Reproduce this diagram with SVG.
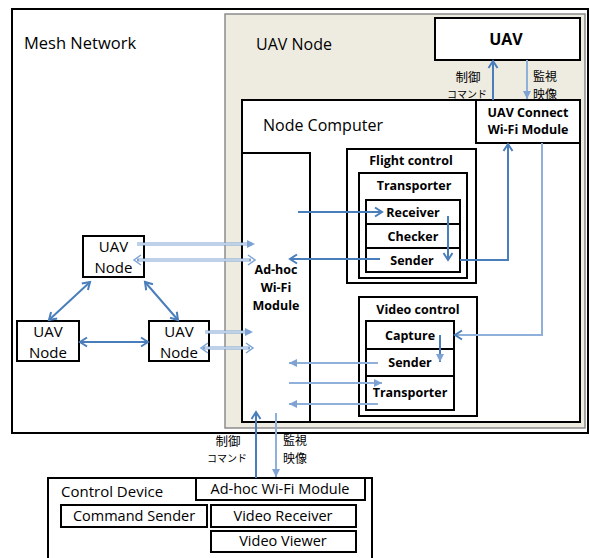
<svg xmlns="http://www.w3.org/2000/svg" width="590" height="558" viewBox="0 0 590 558">
<style>
.bx{fill:#fff;stroke:#000;stroke-width:2}
.t{font-family:"Open Sans","Liberation Sans",sans-serif;fill:#000}
.b{font-weight:bold;text-anchor:middle;font-size:12.5px}
.m{text-anchor:middle}
.jp{font-family:"Noto Sans CJK JP",sans-serif;fill:#000;text-anchor:middle}
.dk{fill:none;stroke:#4A7EBB;stroke-width:2}
.lt{fill:none;stroke:#8EB0DA;stroke-width:2}
.dbl{fill:none;stroke:#7EA3D2;stroke-width:3}
.dblc{fill:none;stroke:#fff;stroke-width:1}
.hd{fill:none;stroke:#7EA3D2;stroke-width:1.5}
</style>
<defs>
<marker id="ad" markerUnits="userSpaceOnUse" markerWidth="12" markerHeight="12" refX="9" refY="5" orient="auto-start-reverse" viewBox="0 0 12 10">
<path d="M2,0.5 L9,5 L2,9.5" fill="none" stroke="#4A7EBB" stroke-width="2"/>
</marker>
<marker id="al" markerUnits="userSpaceOnUse" markerWidth="9" markerHeight="9" refX="8" refY="4" orient="auto-start-reverse" viewBox="0 0 9 8">
<path d="M0,0 L8,4 L0,8 Z" fill="#7EA3D2"/>
</marker>
</defs>
<rect width="590" height="558" fill="#fff"/>

<g id="mesh-network">
<rect x="12" y="9" width="576" height="424" fill="#fff" stroke="#000" stroke-width="2"/>
<text class="t" x="24" y="49" font-size="16.5">Mesh Network</text>
</g>

<g id="uav-node-area">
<rect x="225" y="14" width="360" height="414" fill="#EEECE1" stroke="#8C8C8C" stroke-width="1.5"/>
<text class="t" x="256" y="50" font-size="16">UAV Node</text>
</g>

<g id="uav">
<rect class="bx" x="435" y="18" width="145" height="42"/>
<text class="t b" x="506" y="45" style="font-size:16px">UAV</text>
</g>

<g id="node-computer">
<rect class="bx" x="242" y="100" width="338" height="322"/>
<text class="t" x="263" y="131" font-size="16">Node Computer</text>
</g>

<g id="uav-connect">
<rect class="bx" x="476" y="100" width="104" height="43"/>
<text class="t b" x="528" y="117">UAV Connect</text>
<text class="t b" x="528" y="134">Wi-Fi Module</text>
</g>

<g id="adhoc-module">
<rect class="bx" x="242" y="153" width="68" height="269"/>
<text class="t b" x="276" y="274">Ad-hoc</text>
<text class="t b" x="276" y="292">Wi-Fi</text>
<text class="t b" x="276" y="310">Module</text>
</g>

<g id="flight-control">
<rect class="bx" x="347" y="149" width="129" height="134"/>
<text class="t b" x="411" y="165">Flight control</text>
<rect class="bx" x="359" y="173" width="108" height="105"/>
<text class="t b" x="414" y="190">Transporter</text>
<rect class="bx" x="366" y="200" width="94" height="24"/>
<text class="t b" x="413" y="217">Receiver</text>
<rect class="bx" x="366" y="224" width="94" height="24"/>
<text class="t b" x="413" y="241">Checker</text>
<rect class="bx" x="366" y="248" width="94" height="24"/>
<text class="t b" x="412" y="265">Sender</text>
</g>

<g id="video-control">
<rect class="bx" x="359" y="297" width="118" height="119"/>
<text class="t b" x="418" y="314">Video control</text>
<rect class="bx" x="366" y="321" width="88" height="28"/>
<text class="t b" x="410" y="340">Capture</text>
<rect class="bx" x="366" y="349" width="88" height="27"/>
<text class="t b" x="410" y="367">Sender</text>
<rect class="bx" x="366" y="376" width="88" height="34"/>
<text class="t b" x="410" y="397">Transporter</text>
</g>

<g id="node-top">
<rect class="bx" x="83" y="236" width="61" height="41"/>
<text class="t m" x="113.5" y="252" font-size="15">UAV</text>
<text class="t m" x="113.5" y="273" font-size="15">Node</text>
</g>
<g id="node-left">
<rect class="bx" x="17" y="321" width="62" height="40"/>
<text class="t m" x="48" y="337" font-size="15">UAV</text>
<text class="t m" x="48" y="358" font-size="15">Node</text>
</g>
<g id="node-right">
<rect class="bx" x="149" y="321" width="60" height="40"/>
<text class="t m" x="179" y="337" font-size="15">UAV</text>
<text class="t m" x="179" y="358" font-size="15">Node</text>
</g>

<g id="control-device">
<rect class="bx" x="48" y="478" width="324" height="84"/>
<text class="t" x="61" y="497" font-size="15">Control Device</text>
<rect class="bx" x="196" y="478" width="169" height="22"/>
<text class="t m" x="280" y="494" font-size="14.5">Ad-hoc Wi-Fi Module</text>
<rect class="bx" x="61" y="505" width="146" height="22"/>
<text class="t m" x="134" y="521" font-size="14.5">Command Sender</text>
<rect class="bx" x="211" y="505" width="145" height="22"/>
<text class="t m" x="283" y="521" font-size="14.5">Video Receiver</text>
<rect class="bx" x="211" y="531" width="145" height="21"/>
<text class="t m" x="283" y="546" font-size="14.5">Video Viewer</text>
</g>

<g id="labels">
<text class="jp" x="468" y="82" font-size="12.5">制御</text>
<text class="jp" x="467" y="97.5" font-size="10">コマンド</text>
<text class="jp" x="545" y="81" font-size="12">監視</text>
<text class="jp" x="545" y="99" font-size="12">映像</text>
<text class="jp" x="228" y="446" font-size="12.5">制御</text>
<text class="jp" x="227" y="462" font-size="10">コマンド</text>
<text class="jp" x="295" y="445" font-size="12">監視</text>
<text class="jp" x="295" y="463" font-size="12">映像</text>
</g>

<g id="connectors">
<line class="dk" x1="493" y1="100" x2="493" y2="61" marker-end="url(#ad)"/>
<line class="lt" x1="527" y1="60" x2="527" y2="99" marker-end="url(#al)"/>
<line class="dk" x1="298" y1="212" x2="382" y2="212" marker-end="url(#ad)"/>
<line class="dk" x1="448" y1="216" x2="448" y2="260" marker-end="url(#ad)"/>
<line class="dk" x1="380" y1="259" x2="290" y2="259" marker-end="url(#ad)"/>
<polyline class="dk" points="460,260 508,260 508,144" marker-end="url(#ad)"/>
<polyline class="lt" points="542,143 542,335 455,335" marker-end="url(#ad)"/>
<line class="dk" x1="440" y1="335" x2="440" y2="362" marker-end="url(#al)"/>
<line class="lt" x1="378" y1="363" x2="289" y2="363" marker-end="url(#al)"/>
<line class="lt" x1="289" y1="383" x2="382" y2="383" marker-end="url(#al)"/>
<line class="lt" x1="378" y1="404" x2="289" y2="404" marker-end="url(#al)"/>
<line class="dk" x1="256" y1="478" x2="256" y2="412" marker-end="url(#ad)"/>
<line class="lt" x1="276" y1="413" x2="276" y2="477" marker-end="url(#al)"/>
<line class="dk" x1="90" y1="282" x2="49" y2="320" marker-start="url(#ad)" marker-end="url(#ad)"/>
<line class="dk" x1="145" y1="282" x2="178" y2="320" marker-start="url(#ad)" marker-end="url(#ad)"/>
<line class="dk" x1="80" y1="342" x2="148" y2="342" marker-start="url(#ad)" marker-end="url(#ad)"/>
<line class="dbl" x1="137" y1="244" x2="252" y2="244"/>
<line class="dblc" x1="137" y1="244" x2="248" y2="244"/>
<line x1="245" y1="244" x2="255" y2="244" stroke="none" marker-end="url(#al)"/>
<line class="dbl" x1="137" y1="260" x2="251" y2="260"/>
<line class="dblc" x1="139" y1="260" x2="249" y2="260"/>
<polyline class="hd" points="141,255 134,260 141,265"/>
<polyline class="hd" points="248,255 255,260 248,265"/>
<line class="dbl" x1="205" y1="332" x2="250" y2="332"/>
<line class="dblc" x1="205" y1="332" x2="247" y2="332"/>
<line x1="243" y1="332" x2="253" y2="332" stroke="none" marker-end="url(#al)"/>
<line class="dbl" x1="203" y1="348" x2="250" y2="348"/>
<line class="dblc" x1="205" y1="348" x2="248" y2="348"/>
<polyline class="hd" points="208,343 201,348 208,353"/>
<polyline class="hd" points="246,343 253,348 246,353"/>
</g>
</svg>
